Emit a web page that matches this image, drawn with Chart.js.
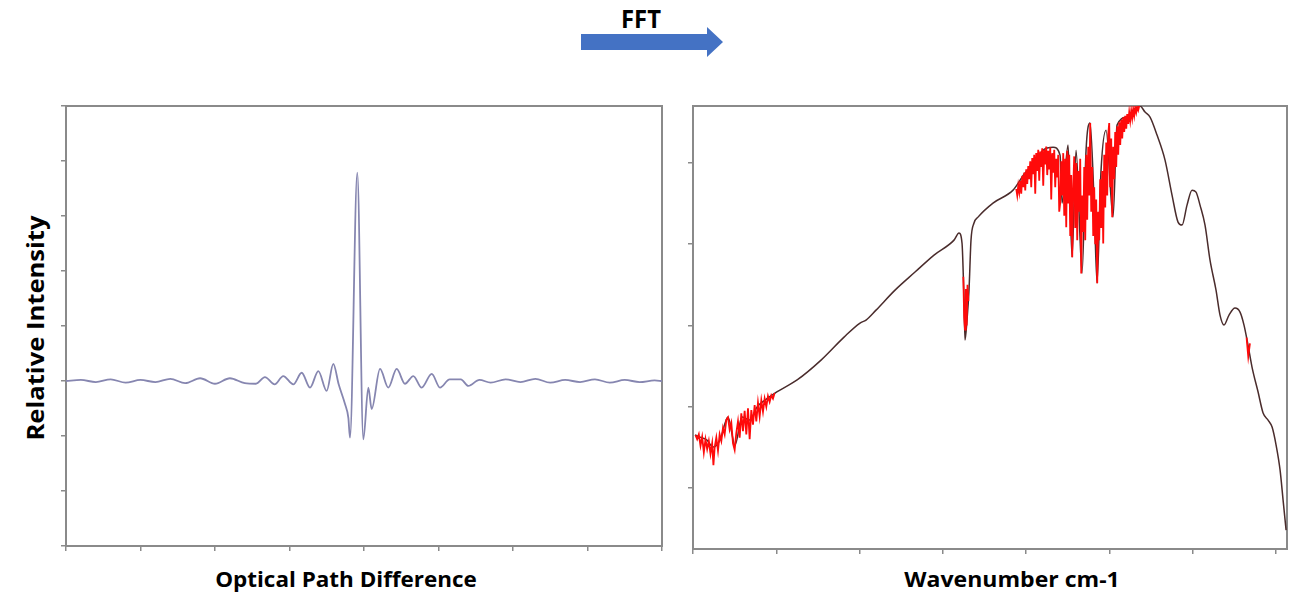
<!DOCTYPE html>
<html><head><meta charset="utf-8">
<script src="https://cdn.jsdelivr.net/npm/chart.js@4.4.1/dist/chart.umd.min.js"></script>
<style>
body{margin:0;width:1290px;height:605px;background:#fff;position:relative;overflow:hidden;font-family:'Open Sans',Lato,sans-serif;}
.lbl{position:absolute;font-weight:700;color:#000;white-space:nowrap;line-height:1.2;transform:translate(-50%,-50%);}
canvas{position:absolute;}
</style></head><body>
<div class="lbl fit" data-w="40" data-rot="0" style="left:641px;top:18px;font-size:25px;">FFT</div>
<svg style="position:absolute;left:0;top:0" width="1290" height="80"><polygon points="581,34 707,34 707,27 723,42 707,57 707,50 581,50" fill="#4472c4"/></svg>
<div class="lbl fit" data-w="225" data-rot="-90" style="left:35px;top:328px;font-size:24px;">Relative Intensity</div>
<div class="lbl fit" data-w="262" data-rot="0" style="left:346px;top:580px;font-size:21px;">Optical Path Difference</div>
<div class="lbl fit" data-w="215" data-rot="0" style="left:1012px;top:580px;font-size:21px;">Wavenumber cm-1</div>
<canvas id="left" width="640" height="470" style="left:40px;top:96px;width:640px;height:470px"></canvas>
<canvas id="right" width="610" height="470" style="left:680px;top:96px;width:610px;height:470px"></canvas>
<script>
// ---- Interferogram (left) ----
const opdX = [0,0.2,0.4,0.6,0.8,1.0,1.2,1.4,1.6,1.8,2.0,2.2,2.4,2.55,2.67,2.8,2.916,3.051,3.164,3.275,3.387,3.499,3.588,3.66,3.745,3.79,3.812,3.910,3.991,4.058,4.103,4.215,4.326,4.439,4.550,4.662,4.774,4.909,5.02,5.15,5.3,5.4,5.55,5.7,5.9,6.1,6.3,6.5,6.7,6.9,7.1,7.3,7.5,7.7,7.9,8.0];
const opdY = [0,0.02,-0.02,0.03,-0.03,0.02,-0.02,0.04,-0.04,0.05,-0.05,0.05,-0.04,-0.05,0.07,-0.06,0.09,-0.06,0.15,-0.12,0.18,-0.18,0.31,-0.06,-0.42,-0.67,-1.03,3.79,-1.06,-0.12,-0.51,0.22,-0.12,0.22,-0.05,0.09,-0.12,0.13,-0.12,0.03,0.03,-0.09,0.02,-0.03,0.03,-0.02,0.04,-0.03,0.02,-0.02,0.03,-0.03,0.02,-0.02,0.01,0.0];
const opdTicksX = [0,1,2,3,4,5,6,7,8];
const opdTicksY = [-3,-2,-1,0,1,2,3,4,5];

// ---- Spectrum (right) ----
const wnX = [0.024,0.084,0.168,0.240,0.324,0.420,0.504,0.588,0.684,0.768,0.864,0.984,1.25,1.537,1.813,2.005,2.077,2.197,2.425,2.665,2.893,3.133,3.193,3.229,3.253,3.265,3.289,3.313,3.337,3.373,3.421,3.601,3.842,3.986,4.106,4.202,4.322,4.406,4.430,4.502,4.550,4.598,4.670,4.718,4.766,4.814,4.850,4.898,4.958,5.042,5.090,5.210,5.282,5.366,5.426,5.486,5.570,5.666,5.750,5.822,5.870,5.930,5.990,6.038,6.086,6.146,6.206,6.278,6.326,6.374,6.434,6.506,6.566,6.614,6.662,6.710,6.783,6.843,6.903,6.951,6.999,7.047,7.083,7.119];
const wnY = [0.652,0.627,0.590,0.504,0.590,0.873,0.529,0.873,0.836,0.996,1.082,1.169,1.33,1.574,1.857,2.030,2.066,2.189,2.435,2.657,2.866,3.050,3.137,3.014,2.312,1.820,2.066,2.435,3.050,3.260,3.333,3.506,3.665,3.875,3.998,4.157,4.194,4.096,3.506,4.219,2.841,4.157,2.644,4.157,4.490,3.542,2.522,3.911,4.403,3.333,4.465,4.563,4.649,4.699,4.625,4.563,4.342,4.034,3.604,3.272,3.235,3.481,3.665,3.641,3.481,3.235,2.804,2.435,2.128,2.005,2.128,2.214,2.165,2.005,1.759,1.488,1.181,0.923,0.836,0.750,0.529,0.221,-0.148,-0.517];
// absorption-noise bands (red)
const bandLowX = [0.03,0.05,0.07,0.09,0.11,0.13,0.15,0.17,0.19,0.21,0.23,0.245,0.26,0.28,0.30,0.32,0.34,0.36,0.38,0.40,0.42,0.44,0.46,0.48,0.50,0.52,0.54,0.56,0.58,0.60,0.62,0.64,0.66,0.68,0.70,0.72,0.74,0.76,0.78,0.80,0.82,0.84,0.86,0.88,0.90,0.92,0.94,0.96,0.98];
const bandLowY = [0.65,0.60,0.66,0.52,0.63,0.44,0.60,0.48,0.58,0.42,0.55,0.28,0.50,0.62,0.46,0.66,0.58,0.74,0.66,0.84,0.87,0.72,0.80,0.55,0.47,0.68,0.82,0.62,0.92,0.70,0.95,0.66,0.98,0.60,0.96,0.78,1.02,0.82,1.05,0.88,1.08,0.94,1.10,1.00,1.13,1.06,1.14,1.10,1.17];
const bandNotchX = [3.245,3.255,3.265,3.275,3.285,3.295,3.305];
const bandNotchY = [2.6,2.1,1.95,2.45,2.0,2.5,2.3];
const bandHighX = [3.88,3.892,3.904,3.916,3.928,3.94,3.952,3.964,3.976,3.988,4.00,4.012,4.024,4.036,4.048,4.06,4.072,4.084,4.096,4.108,4.12,4.132,4.144,4.156,4.168,4.18,4.192,4.204,4.216,4.228,4.24,4.252,4.264,4.276,4.288,4.30,4.312,4.324,4.336,4.348,4.36,4.372,4.384,4.396,4.408,4.42,4.432,4.444,4.456,4.468,4.48,4.492,4.504,4.516,4.528,4.54,4.552,4.564,4.576,4.588,4.60,4.612,4.624,4.636,4.648,4.66,4.672,4.684,4.696,4.708,4.72,4.732,4.744,4.756,4.768,4.78,4.792,4.804,4.816,4.828,4.84,4.852,4.864,4.876,4.888,4.90,4.912,4.924,4.936,4.948,4.96,4.972,4.984,4.996,5.008,5.02,5.032,5.044,5.056,5.068,5.08,5.092,5.104,5.116,5.128,5.14,5.152,5.164,5.176,5.188,5.20,5.212,5.224,5.236,5.248,5.26,5.272,5.284,5.296,5.308,5.32,5.332,5.344,5.356];
const bandHighY = [3.68,3.60,3.72,3.64,3.78,3.62,3.84,3.70,3.88,3.66,3.92,3.74,3.96,3.80,4.02,3.70,4.06,3.86,4.10,3.62,4.12,3.90,4.16,3.78,4.14,3.95,4.18,3.72,4.16,3.98,4.20,3.85,4.15,3.92,4.19,3.55,4.12,3.88,4.16,3.70,4.05,3.82,4.10,3.40,3.51,4.02,3.60,4.12,3.35,4.05,3.21,4.15,3.50,4.10,3.10,3.85,2.84,3.70,4.08,3.20,4.00,3.05,3.90,3.40,4.05,2.64,3.60,3.15,3.95,3.05,4.10,3.30,4.20,3.60,4.49,3.40,3.95,3.10,3.70,3.00,3.55,2.52,3.40,3.05,3.80,3.20,3.90,3.01,4.10,3.45,4.25,3.60,4.35,4.49,3.70,4.30,3.33,4.20,3.80,4.38,3.95,4.45,4.10,4.50,4.22,4.53,4.30,4.56,4.38,4.58,4.42,4.60,4.48,4.62,4.52,4.64,4.55,4.66,4.58,4.68,4.62,4.69,4.65,4.70];
const bandTailX = [6.645,6.665,6.685];
const bandTailY = [1.85,1.62,1.78];
const wnTicksX = [0,1,2,3,4,5,6,7];
const wnTicksY = [0,1,2,3,4];

const pts = (xs, ys) => xs.map((x, i) => ({x, y: ys[i]}));
const gap = x => ({x, y: null});

const FRAME = '#8a8a8a';
function axes(xmin, xmax, ymin, ymax, tx, ty, yW, xH) {
  const setTicks = arr => s => { s.ticks = arr.map(v => ({value: v})); };
  const common = {type: 'linear', ticks: {display: false},
    border: {display: true, color: FRAME, width: 2}};
  return {
    x: {...common, position: 'bottom', min: xmin, max: xmax,
        grid: {display: true, drawOnChartArea: false, drawTicks: true, tickLength: 5, color: FRAME, lineWidth: 1.5},
        afterBuildTicks: setTicks(tx), afterFit: s => { s.height = xH; }},
    y: {...common, position: 'left', min: ymin, max: ymax,
        grid: {display: true, drawOnChartArea: false, drawTicks: true, tickLength: 5, color: FRAME, lineWidth: 1.5},
        afterBuildTicks: setTicks(ty), afterFit: s => { s.width = yW; }},
    x2: {...common, position: 'top', min: xmin, max: xmax, grid: {display: false},
        afterFit: s => { s.height = 0; }},
    y2: {...common, position: 'right', min: ymin, max: ymax, grid: {display: false},
        afterFit: s => { s.width = 0; }}
  };
}
const base = {responsive: false, animation: false, devicePixelRatio: 1,
  plugins: {legend: {display: false}, tooltip: {enabled: false}},
  elements: {point: {radius: 0}}};

new Chart(document.getElementById('left'), {
  type: 'line',
  data: {datasets: [{data: pts(opdX, opdY), borderColor: '#8686b0', borderWidth: 1.8,
    cubicInterpolationMode: 'monotone', fill: false}]},
  options: {...base, layout: {padding: {top: 10, right: 18, left: 0, bottom: 0}},
    scales: axes(0, 8, -3, 5, opdTicksX, opdTicksY, 26, 20)}
});

const red = [].concat(pts(bandLowX, bandLowY), [gap(1.5)], pts(bandNotchX, bandNotchY), [gap(3.6)],
  pts(bandHighX, bandHighY), [gap(6.0)], pts(bandTailX, bandTailY));
new Chart(document.getElementById('right'), {
  type: 'line',
  data: {datasets: [
    {data: red, borderColor: '#ff0a0a', borderWidth: 1.8, tension: 0, spanGaps: false, order: 0},
    {data: pts(wnX, wnY), borderColor: '#4a2c2c', borderWidth: 1.5, cubicInterpolationMode: 'monotone', order: 1}
  ]},
  options: {...base, layout: {padding: {top: 10, right: 3, left: 0, bottom: 0}},
    scales: axes(0, 7.13, -0.75, 4.70, wnTicksX, wnTicksY, 13, 17)}
});

// fit label widths to the reference
document.querySelectorAll('.lbl.fit').forEach(el => {
  const k = (+el.dataset.w) / el.offsetWidth;
  el.style.transform = `translate(-50%,-50%) rotate(${el.dataset.rot}deg) scaleX(${k})`;
});
</script>
</body></html>
